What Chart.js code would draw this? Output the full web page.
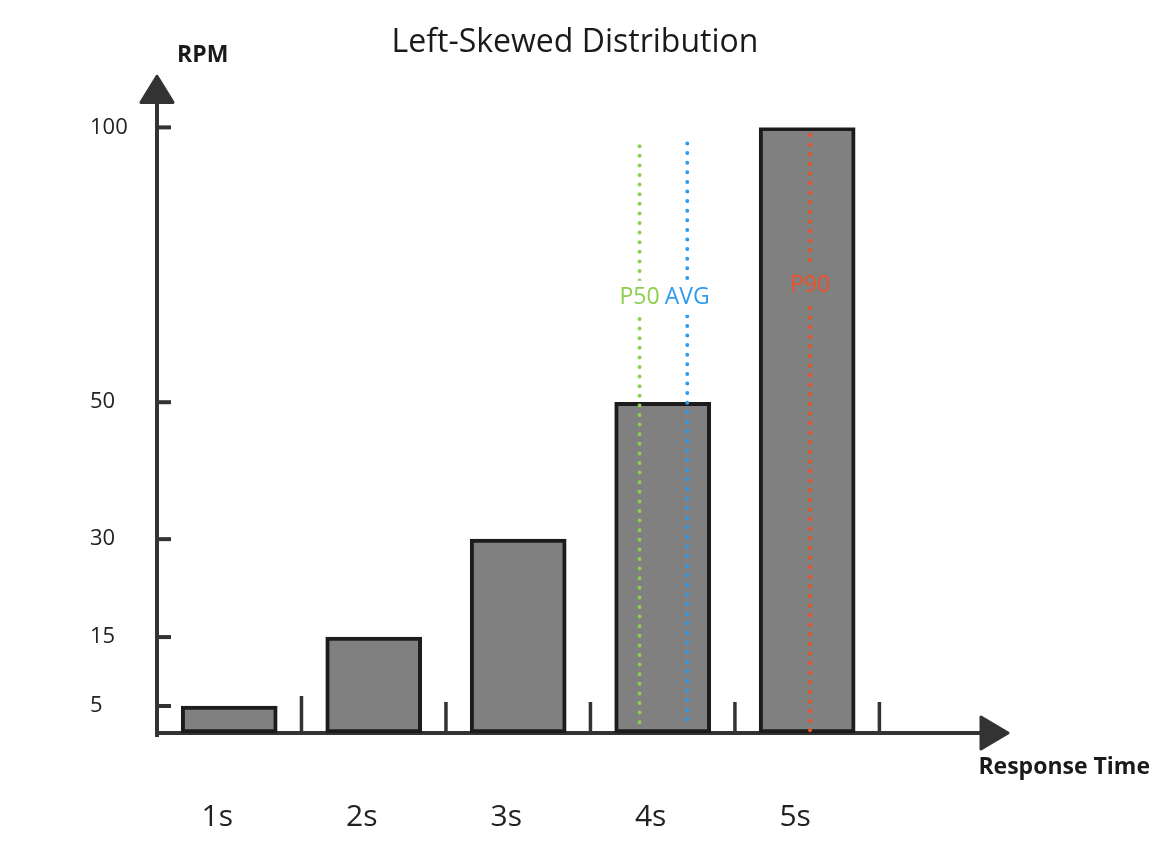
<!DOCTYPE html>
<html>
<head>
<meta charset="utf-8">
<script src="https://cdn.jsdelivr.net/npm/chart.js@4.4.1/dist/chart.umd.min.js"></script>
<style>
  html, body { margin: 0; padding: 0; background: #fff; }
  #wrap { width: 1166px; height: 857px; }
</style>
</head>
<body>
<div id="wrap"><canvas id="grafica"></canvas></div>
<script>
// Datos del histograma
const categories = ['1s', '2s', '3s', '4s', '5s'];
const binX = [1, 2, 3, 4, 5];
const rpm = [5, 15, 30, 50, 100];
const yTicks = [5, 15, 30, 50, 100];
const binEdges = [1.5, 2.5, 3.5, 4.5, 5.5];

// Líneas de referencia
const markerNames = ['P50', 'AVG', 'P90'];
const markerX = [3.84, 4.17, 5.02];
const markerFrom = [2, 2.5, 0.5];
const markerTo = [97, 97.5, 100];
const markerLabelY = [69, 69, 71.3];
const markerColors = ['#8ccf4d', '#2d9bf0', '#ee5128'];
const markerLabelBg = ['#ffffff', '#ffffff', '#808080'];

// El eje Y del dibujo no es lineal: cada marca tiene su sitio
const yKnots = [0, 5, 15, 30, 50, 100];
const yKnotFrac = [0, 0.0446, 0.1584, 0.3201, 0.5462, 1];

function piece(v, from, to) {
    if (v <= from[0]) return to[0];
    for (let i = 1; i < from.length; i++) {
        if (v <= from[i]) {
            const t = (v - from[i - 1]) / (from[i] - from[i - 1]);
            return to[i - 1] + t * (to[i] - to[i - 1]);
        }
    }
    return to[to.length - 1];
}

class BreakScale extends Chart.LinearScale {
    getPixelForValue(value) {
        if (value === null || value === undefined) return NaN;
        return this.getPixelForDecimal(piece(value, yKnots, yKnotFrac));
    }
    getValueForPixel(pixel) {
        return piece(this.getDecimalForPixel(pixel), yKnotFrac, yKnots);
    }
}
BreakScale.id = 'breaks';
BreakScale.defaults = Chart.LinearScale.defaults;
Chart.register(BreakScale);

const FONT = "'Open Sans', 'Noto Sans', sans-serif";

// Ejes con flechas, marcas y etiquetas a mano
const decor = {
    id: 'decor',
    beforeDatasetsDraw(chart) {
        const { ctx, chartArea: a, scales: { x, y } } = chart;
        ctx.save();
        ctx.strokeStyle = '#333';
        ctx.fillStyle = '#333';
        ctx.lineWidth = 4;

        // eje Y
        ctx.beginPath();
        ctx.moveTo(a.left, a.bottom + 4);
        ctx.lineTo(a.left, a.top - 30);
        ctx.stroke();
        ctx.lineJoin = 'round';
        ctx.lineWidth = 3;
        ctx.beginPath();
        ctx.moveTo(a.left, a.top - 51);
        ctx.lineTo(a.left + 16, a.top - 25);
        ctx.lineTo(a.left - 16, a.top - 25);
        ctx.closePath();
        ctx.fill();
        ctx.stroke();

        // eje X
        const xEnd = 1008;
        ctx.lineWidth = 4;
        ctx.beginPath();
        ctx.moveTo(a.left, a.bottom);
        ctx.lineTo(xEnd - 20, a.bottom);
        ctx.stroke();
        ctx.lineWidth = 3;
        ctx.beginPath();
        ctx.moveTo(xEnd, a.bottom);
        ctx.lineTo(xEnd - 27, a.bottom - 16);
        ctx.lineTo(xEnd - 27, a.bottom + 16);
        ctx.closePath();
        ctx.fill();
        ctx.stroke();

        // marcas del eje Y (hacia dentro)
        ctx.lineWidth = 4;
        yTicks.forEach(v => {
            const py = y.getPixelForValue(v);
            ctx.beginPath();
            ctx.moveTo(a.left, py);
            ctx.lineTo(a.left + 14, py);
            ctx.stroke();
        });

        // separadores entre clases
        ctx.lineWidth = 3.5;
        binEdges.forEach((v, i) => {
            const px = x.getPixelForValue(v);
            ctx.beginPath();
            ctx.moveTo(px, a.bottom);
            ctx.lineTo(px, a.bottom - (i === 0 ? 37 : 31));
            ctx.stroke();
        });

        // títulos de los ejes
        ctx.fillStyle = '#1a1a1a';
        ctx.font = 'bold 23px ' + FONT;
        ctx.textBaseline = 'middle';
        ctx.textAlign = 'left';
        ctx.fillText('RPM', a.left + 20, 55);
        ctx.textAlign = 'right';
        ctx.fillText('Response Time', 1150, a.bottom + 34);
        ctx.restore();
    },
    afterDatasetsDraw(chart) {
        const { ctx, scales: { x, y } } = chart;
        ctx.save();
        ctx.font = '23px ' + FONT;
        ctx.textAlign = 'center';
        ctx.textBaseline = 'middle';
        markerNames.forEach((name, i) => {
            const px = x.getPixelForValue(markerX[i]);
            const py = y.getPixelForValue(markerLabelY[i]);
            const w = ctx.measureText(name).width;
            ctx.fillStyle = markerLabelBg[i];
            ctx.fillRect(px - w / 2 - 2, py - 17, w + 4, 34);
            ctx.fillStyle = markerColors[i];
            ctx.fillText(name, px, py);
        });
        ctx.restore();
    }
};

const datasets = [{
    type: 'bar',
    label: 'RPM',
    data: binX.map((v, i) => ({ x: v, y: rpm[i] })),
    backgroundColor: '#808080',
    borderColor: '#1c1c1c',
    borderWidth: 4,
    borderSkipped: false,
    barThickness: 96,
    order: 2
}];
markerNames.forEach((name, i) => {
    datasets.push({
        type: 'line',
        label: name,
        data: [{ x: markerX[i], y: markerFrom[i] }, { x: markerX[i], y: markerTo[i] }],
        borderColor: markerColors[i],
        borderWidth: 4,
        borderDash: [0, 9.6],
        borderCapStyle: 'round',
        pointRadius: 0,
        fill: false,
        order: 1
    });
});

const ctxGrafica = document.getElementById('grafica').getContext('2d');
new Chart(ctxGrafica, {
    type: 'bar',
    data: { datasets: datasets },
    plugins: [decor],
    options: {
        responsive: true,
        maintainAspectRatio: false,
        animation: false,
        layout: { padding: { left: 90, right: 106, top: 0, bottom: 0 } },
        plugins: {
            legend: { display: false },
            tooltip: { enabled: false },
            title: {
                display: true,
                text: 'Left-Skewed Distribution',
                color: '#1a1a1a',
                font: { family: FONT, size: 32, weight: 'normal' },
                padding: { top: 24, bottom: 65 }
            }
        },
        scales: {
            x: {
                type: 'linear',
                min: 0.5,
                max: 6.75,
                offset: false,
                grid: { display: false },
                border: { display: false },
                afterFit: s => { s.height = 124; },
                afterBuildTicks: s => { s.ticks = binX.map(v => ({ value: v })); },
                ticks: {
                    padding: 58,
                    labelOffset: -12,
                    color: '#222',
                    font: { family: FONT, size: 30 },
                    callback: v => categories[binX.indexOf(v)]
                }
            },
            y: {
                type: 'breaks',
                min: 0,
                max: 100,
                grid: { display: false },
                border: { display: false },
                afterFit: s => { s.width = 67; },
                afterBuildTicks: s => { s.ticks = yTicks.map(v => ({ value: v })); },
                ticks: {
                    crossAlign: 'far',
                    padding: 0,
                    color: '#222',
                    font: { family: FONT, size: 22 }
                }
            }
        }
    }
});
</script>
</body>
</html>
